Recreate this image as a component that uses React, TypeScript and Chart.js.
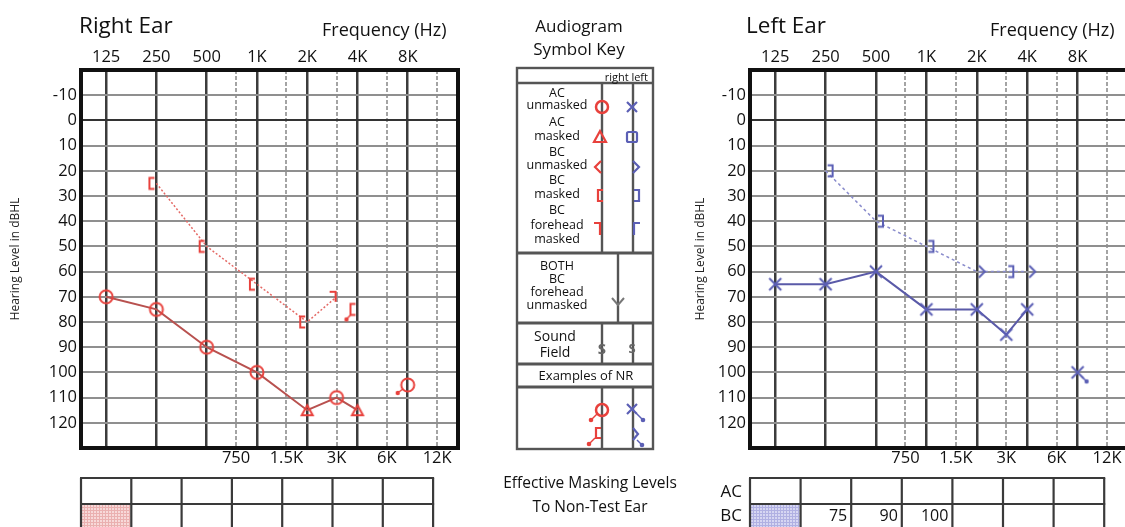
import React, { useEffect, useRef } from 'react';
import { Chart, registerables } from 'chart.js';

Chart.register(...registerables);

// ---------------- data ----------------
const topFreqs = [125, 250, 500, 1000, 2000, 4000, 8000];
const topLabels = ['125', '250', '500', '1K', '2K', '4K', '8K'];
const midFreqs = [750, 1500, 3000, 6000, 12000];
const midLabels = ['750', '1.5K', '3K', '6K', '12K'];
const hearingLevels = [-10, 0, 10, 20, 30, 40, 50, 60, 70, 80, 90, 100, 110, 120];

// Right ear
const rightAcFreqs = [125, 250, 500, 1000, 2000, 3000, 4000];
const rightAcValues = [70, 75, 90, 100, 115, 110, 115];
const rightAcSymbols = ['circle', 'circle', 'circle', 'circle', 'triangle', 'circle', 'triangle'];
const rightAcNrFreqs = [8000];
const rightAcNrValues = [105];
const rightBcFreqs = [250, 500, 1000, 2000, 3000];
const rightBcValues = [25, 50, 65, 80, 70];
const rightBcSymbols = ['bracketL', 'bracketL', 'bracketL', 'bracketL', 'foreheadR'];
const rightBcNrFreqs = [4000];
const rightBcNrValues = [75];

// Left ear
const leftAcFreqs = [125, 250, 500, 1000, 2000, 3000, 4000];
const leftAcValues = [65, 65, 60, 75, 75, 85, 75];
const leftAcNrFreqs = [8000];
const leftAcNrValues = [100];
const leftBcFreqs = [250, 500, 1000, 2000, 3000, 4000];
const leftBcValues = [20, 40, 50, 60, 60, 60];
const leftBcSymbols = ['bracketR', 'bracketR', 'bracketR', 'angleR', 'bracketR', 'angleR'];

// Effective masking levels
const rightMaskingAC = ['', '', '', '', '', '', ''];
const rightMaskingBC = ['', '', '', '', '', '', ''];
const leftMaskingAC = ['', '', '', '', '', '', ''];
const leftMaskingBC = ['', '75', '90', '100', '', '', ''];

// ---------------- styles ----------------
const FONT = "'Open Sans', 'DejaVu Sans', sans-serif";
const RED = '#e8413c';
const RED_LINE = '#b8514f';
const RED_DOT = '#e46a66';
const BLUE = '#5b5fb5';
const BLUE_LINE = '#5a5aa8';
const BLUE_DOT = '#8a8ccc';
const F_MIN = 125 / Math.SQRT2;
const F_MAX = 16000;
const CW = 470;
const CH = 475;

function makeMarker(kind: string, color: string, nr: string | null = null): HTMLCanvasElement {
  const S = 34;
  const c = document.createElement('canvas');
  c.width = S;
  c.height = S;
  const g = c.getContext('2d')!;
  g.translate(S / 2, S / 2);
  g.strokeStyle = color;
  g.fillStyle = color;
  g.lineWidth = 2;
  const poly = (pts: number[][], close = false) => {
    g.beginPath();
    pts.forEach(([x, y], i) => (i ? g.lineTo(x, y) : g.moveTo(x, y)));
    if (close) g.closePath();
    g.stroke();
  };
  if (kind === 'circle') {
    g.beginPath();
    g.arc(0, 0, 6.5, 0, Math.PI * 2);
    g.stroke();
  } else if (kind === 'triangle') {
    poly([[0, -5], [5.5, 5], [-5.5, 5]], true);
  } else if (kind === 'cross') {
    poly([[-6, -6], [6, 6]]);
    poly([[6, -6], [-6, 6]]);
  } else if (kind === 'bracketL') {
    poly([[-2, -5.5], [-7, -5.5], [-7, 5.5], [-2, 5.5]]);
  } else if (kind === 'bracketR') {
    poly([[2, -5.5], [7, -5.5], [7, 5.5], [2, 5.5]]);
  } else if (kind === 'angleR') {
    poly([[2, -6], [8, 0], [2, 6]]);
  } else if (kind === 'foreheadR') {
    poly([[-7, -5], [-1, -5], [-1, 5]]);
  }
  if (nr) {
    let from: number[] = [-5, 4];
    let to: number[] = [-10, 8];
    if (nr === 'bracketDown') {
      from = [-7, 5.5];
      to = [-11, 10];
    } else if (nr === 'downRight') {
      from = [4, 4];
      to = [9, 9];
    }
    g.lineWidth = 1.5;
    poly([from, to]);
    g.beginPath();
    g.arc(to[0], to[1], 2.2, 0, Math.PI * 2);
    g.fill();
  }
  return c;
}

const framePlugin = {
  id: 'frame',
  beforeDatasetsDraw(chart: any) {
    const { ctx, chartArea: a } = chart;
    ctx.save();
    ctx.strokeStyle = '#111';
    ctx.lineWidth = 4;
    ctx.strokeRect(a.left, a.top, a.right - a.left, a.bottom - a.top);
    ctx.restore();
  },
};

function makeOptions(yWidth: number, padRight: number, titlePad: number): any {
  const tickFont = { family: FONT, size: 16.5 };
  return {
    responsive: false,
    maintainAspectRatio: false,
    animation: false,
    events: [],
    layout: { padding: { left: 0, right: padRight, top: 0, bottom: 0 } },
    plugins: { legend: { display: false }, tooltip: { enabled: false } },
    scales: {
      x: {
        type: 'logarithmic',
        position: 'top',
        min: F_MIN,
        max: F_MAX,
        afterBuildTicks: (s: any) => {
          s.ticks = topFreqs.map((v) => ({ value: v }));
        },
        afterFit: (s: any) => {
          s.height = 70;
        },
        ticks: {
          autoSkip: false,
          maxRotation: 0,
          padding: 3,
          color: '#111',
          font: tickFont,
          callback: (_v: any, i: number) => topLabels[i],
        },
        grid: { color: '#3c3c3c', lineWidth: 2.5, drawTicks: false },
        border: { display: false },
      },
      x2: {
        type: 'logarithmic',
        position: 'bottom',
        min: F_MIN,
        max: F_MAX,
        afterBuildTicks: (s: any) => {
          s.ticks = midFreqs.map((v) => ({ value: v }));
        },
        afterFit: (s: any) => {
          s.height = CH - 448;
        },
        ticks: {
          autoSkip: false,
          maxRotation: 0,
          padding: 0,
          color: '#111',
          font: tickFont,
          callback: (_v: any, i: number) => midLabels[i],
        },
        grid: { color: '#a4a4a4', lineWidth: 2, drawTicks: false },
        border: { display: false, dash: [4, 2] },
      },
      y: {
        type: 'linear',
        reverse: true,
        min: -20,
        max: 130,
        afterBuildTicks: (s: any) => {
          s.ticks = hearingLevels.map((v) => ({ value: v }));
        },
        afterFit: (s: any) => {
          s.width = yWidth;
        },
        ticks: {
          padding: 4,
          color: '#111',
          font: tickFont,
          callback: (v: any) => String(v),
        },
        grid: {
          color: (ctx: any) => (ctx.tick && ctx.tick.value === 0 ? '#333' : '#8f8f8f'),
          lineWidth: 2,
          drawTicks: false,
        },
        border: { display: false },
        title: {
          display: true,
          text: 'Hearing Level in dBHL',
          color: '#222',
          font: { family: FONT, size: 12 },
          padding: { top: titlePad, bottom: 0 },
        },
      },
    },
  };
}

function pts(freqs: number[], vals: number[]) {
  return freqs.map((f, i) => ({ x: f, y: vals[i] }));
}

function rightDatasets(): any[] {
  return [
    {
      data: pts(rightAcFreqs, rightAcValues),
      borderColor: RED_LINE,
      borderWidth: 2,
      pointStyle: rightAcSymbols.map((s) => makeMarker(s, RED)),
      pointRadius: 6,
      showLine: true,
    },
    {
      data: pts(rightAcNrFreqs, rightAcNrValues),
      pointStyle: rightAcNrFreqs.map(() => makeMarker('circle', RED, 'downLeft')),
      pointRadius: 6,
      showLine: false,
    },
    {
      data: pts(rightBcFreqs, rightBcValues),
      borderColor: RED_DOT,
      borderWidth: 1.5,
      borderDash: [2, 2],
      pointStyle: rightBcSymbols.map((s) => makeMarker(s, RED)),
      pointRadius: 6,
      showLine: true,
    },
    {
      data: pts(rightBcNrFreqs, rightBcNrValues),
      pointStyle: rightBcNrFreqs.map(() => makeMarker('bracketL', RED, 'bracketDown')),
      pointRadius: 6,
      showLine: false,
    },
  ];
}

function leftDatasets(): any[] {
  return [
    {
      data: pts(leftAcFreqs, leftAcValues),
      borderColor: BLUE_LINE,
      borderWidth: 2,
      pointStyle: leftAcFreqs.map(() => makeMarker('cross', BLUE)),
      pointRadius: 6,
      showLine: true,
    },
    {
      data: pts(leftAcNrFreqs, leftAcNrValues),
      pointStyle: leftAcNrFreqs.map(() => makeMarker('cross', BLUE, 'downRight')),
      pointRadius: 6,
      showLine: false,
    },
    {
      data: pts(leftBcFreqs, leftBcValues),
      borderColor: BLUE_DOT,
      borderWidth: 1.5,
      borderDash: [3, 3],
      pointStyle: leftBcSymbols.map((s) => makeMarker(s, BLUE)),
      pointRadius: 6,
      showLine: true,
    },
  ];
}

function EarChart(props: { left: number; yWidth: number; padRight: number; titlePad: number; build: () => any[] }) {
  const ref = useRef<HTMLCanvasElement>(null);
  useEffect(() => {
    const chart = new Chart(ref.current as HTMLCanvasElement, {
      type: 'line',
      data: { datasets: props.build() },
      options: makeOptions(props.yWidth, props.padRight, props.titlePad),
      plugins: [framePlugin],
    } as any);
    return () => chart.destroy();
  }, []);
  return (
    <canvas
      ref={ref}
      width={CW}
      height={CH}
      style={{ position: 'absolute', left: props.left, top: 0, width: CW, height: CH }}
    />
  );
}

// ---------------- key / tables (SVG) ----------------
const keyLabels: [string, number][][] = [
  [['AC', 92], ['unmasked', 104]],
  [['AC', 121], ['masked', 135]],
  [['BC', 151], ['unmasked', 164]],
  [['BC', 179], ['masked', 193]],
  [['BC', 209], ['forehead', 224], ['masked', 238]],
];
const bothLabels: [string, number][] = [['BOTH', 265], ['BC', 278], ['forehead', 291], ['unmasked', 304]];

function MaskTable({ x0, cw, colsAC, colsBC, fillId }: { x0: number; cw: number; colsAC: string[]; colsBC: string[]; fillId: string }) {
  const n = colsAC.length;
  const top = 478;
  const mid = 504;
  const bot = 532;
  const xs = Array.from({ length: n + 1 }, (_, i) => x0 + i * cw);
  return (
    <g>
      <rect x={x0 + 1} y={mid + 1} width={cw - 2} height={bot - mid} fill={`url(#${fillId})`} />
      {[top, mid].map((y) => (
        <line key={y} x1={x0 - 1} x2={xs[n] + 1} y1={y} y2={y} stroke="#3a3a3a" strokeWidth={2.2} />
      ))}
      {xs.map((x) => (
        <line key={x} x1={x} x2={x} y1={top} y2={bot} stroke="#3a3a3a" strokeWidth={2.2} />
      ))}
      {colsAC.map((t, i) =>
        t ? (
          <text key={'a' + i} x={xs[i + 1] - 5} y={491} fontSize={16} textAnchor="end" dominantBaseline="central">
            {t}
          </text>
        ) : null
      )}
      {colsBC.map((t, i) =>
        t ? (
          <text key={'b' + i} x={xs[i + 1] - 4} y={515} fontSize={16} textAnchor="end" dominantBaseline="central">
            {t}
          </text>
        ) : null
      )}
    </g>
  );
}

function Overlay() {
  const kl = '#555';
  const kw = 2.4;
  return (
    <svg
      width={1125}
      height={527}
      style={{ position: 'absolute', left: 0, top: 0 }}
      fontFamily={FONT}
      fill="#111"
    >
      <defs>
        <pattern id="pinkHatch" width="3" height="3" patternUnits="userSpaceOnUse">
          <rect width="3" height="3" fill="#f7d9d9" />
          <path d="M0 0.5H3M0.5 0V3" stroke="#eab0b0" strokeWidth="1" />
        </pattern>
        <pattern id="blueHatch" width="3" height="3" patternUnits="userSpaceOnUse">
          <rect width="3" height="3" fill="#d6d6f2" />
          <path d="M0 0.5H3M0.5 0V3" stroke="#b0b0e2" strokeWidth="1" />
        </pattern>
      </defs>

      {/* titles */}
      <text x={79} y={33} fontSize={22.5}>Right Ear</text>
      <text x={322} y={36} fontSize={18}>Frequency (Hz)</text>
      <text x={746} y={33} fontSize={22.5}>Left Ear</text>
      <text x={990} y={36} fontSize={18}>Frequency (Hz)</text>
      <text x={579} y={25} fontSize={17} textAnchor="middle" dominantBaseline="central">Audiogram</text>
      <text x={579} y={48} fontSize={17} textAnchor="middle" dominantBaseline="central">Symbol Key</text>

      {/* key box */}
      <g stroke={kl} strokeWidth={kw} fill="none">
        <rect x={517} y={68} width={136} height={381} />
        <line x1={517} x2={653} y1={83} y2={83} />
        <line x1={517} x2={653} y1={253} y2={253} strokeWidth={3} />
        <line x1={517} x2={653} y1={323} y2={323} strokeWidth={3} />
        <line x1={517} x2={653} y1={364} y2={364} strokeWidth={3} />
        <line x1={517} x2={653} y1={387} y2={387} strokeWidth={3} />
        {[602, 633].map((x) => (
          <g key={x}>
            <line x1={x} x2={x} y1={83} y2={253} />
            <line x1={x} x2={x} y1={323} y2={364} />
            <line x1={x} x2={x} y1={387} y2={449} />
          </g>
        ))}
        <line x1={618} x2={618} y1={253} y2={323} />
      </g>
      <text x={648} y={76} fontSize={11} textAnchor="end" dominantBaseline="central">right left</text>
      {keyLabels.map((row, ri) =>
        row.map(([t, y], i) => (
          <text key={ri + '-' + i} x={557} y={y} fontSize={12.5} textAnchor="middle" dominantBaseline="central">
            {t}
          </text>
        ))
      )}
      {bothLabels.map(([t, y], i) => (
        <text key={'both' + i} x={557} y={y} fontSize={12.5} textAnchor="middle" dominantBaseline="central">
          {t}
        </text>
      ))}
      <text x={555} y={335} fontSize={14} textAnchor="middle" dominantBaseline="central">Sound</text>
      <text x={555} y={351} fontSize={14} textAnchor="middle" dominantBaseline="central">Field</text>
      <text x={586} y={375} fontSize={13} textAnchor="middle" dominantBaseline="central">Examples of NR</text>

      {/* key symbols */}
      <g fill="none" strokeWidth={2.2}>
        <circle cx={602} cy={107} r={6} stroke={RED} strokeWidth={2.5} />
        <path d="M627 102L637 112M637 102L627 112" stroke={BLUE} />
        <path d="M600 131L606 142L594 142Z" stroke={RED} />
        <rect x={627} y={132} width={10} height={10} rx={1.5} stroke={BLUE} />
        <path d="M601 161L595 167L601 173" stroke={RED} />
        <path d="M633 161L639 167L633 173" stroke={BLUE} />
        <path d="M603 190L598 190L598 201L603 201" stroke={RED} />
        <path d="M634 190L639 190L639 201L634 201" stroke={BLUE} />
        <path d="M594 223L600 223L600 235" stroke={RED} />
        <path d="M634 235L634 223L640 223" stroke={BLUE} />
        <path d="M612 298L618 305L624 298" stroke="#777" strokeWidth={2} />
        {/* NR examples */}
        <circle cx={602} cy={410} r={6} stroke={RED} strokeWidth={2.5} />
        <path d="M597 414L592 419" stroke={RED} strokeWidth={1.5} />
        <path d="M601 428L596 428L596 438L601 438" stroke={RED} />
        <path d="M595 438L590 443" stroke={RED} strokeWidth={1.5} />
        <path d="M627 404L637 414M637 404L627 414" stroke={BLUE} />
        <path d="M637 414L642 419" stroke={BLUE} strokeWidth={1.5} />
        <path d="M633 428L638 434L633 440" stroke={BLUE} />
        <path d="M637 440L641 444" stroke={BLUE} strokeWidth={1.5} />
      </g>
      <circle cx={591} cy={420} r={2.3} fill={RED} />
      <circle cx={589} cy={444} r={2.3} fill={RED} />
      <circle cx={643} cy={420} r={2.3} fill={BLUE} />
      <circle cx={642} cy={445} r={2.3} fill={BLUE} />
      <text x={602} y={348} fontSize={15} fontWeight="bold" fill="#666" textAnchor="middle" dominantBaseline="central">S</text>
      <text x={632} y={348} fontSize={13} fontWeight="bold" fill="#666" textAnchor="middle" dominantBaseline="central">S</text>

      {/* effective masking */}
      <text x={590} y={482} fontSize={15.5} textAnchor="middle" dominantBaseline="central">Effective Masking Levels</text>
      <text x={590} y={506} fontSize={15.5} textAnchor="middle" dominantBaseline="central">To Non-Test Ear</text>
      <text x={742} y={490} fontSize={17} textAnchor="end" dominantBaseline="central">AC</text>
      <text x={742} y={514} fontSize={17} textAnchor="end" dominantBaseline="central">BC</text>

      <MaskTable x0={81} cw={50.3} colsAC={rightMaskingAC} colsBC={rightMaskingBC} fillId="pinkHatch" />
      <MaskTable x0={750} cw={50.6} colsAC={leftMaskingAC} colsBC={leftMaskingBC} fillId="blueHatch" />
    </svg>
  );
}

export default function App() {
  return (
    <div
      style={{
        position: 'absolute',
        left: 0,
        top: 0,
        width: 1125,
        height: 527,
        overflow: 'hidden',
        background: '#fff',
        fontFamily: FONT,
      }}
    >
      <EarChart left={0} yWidth={81} padRight={CW - 458} titlePad={8} build={rightDatasets} />
      <EarChart left={680} yWidth={70} padRight={CW - 448} titlePad={13} build={leftDatasets} />
      <Overlay />
    </div>
  );
}
